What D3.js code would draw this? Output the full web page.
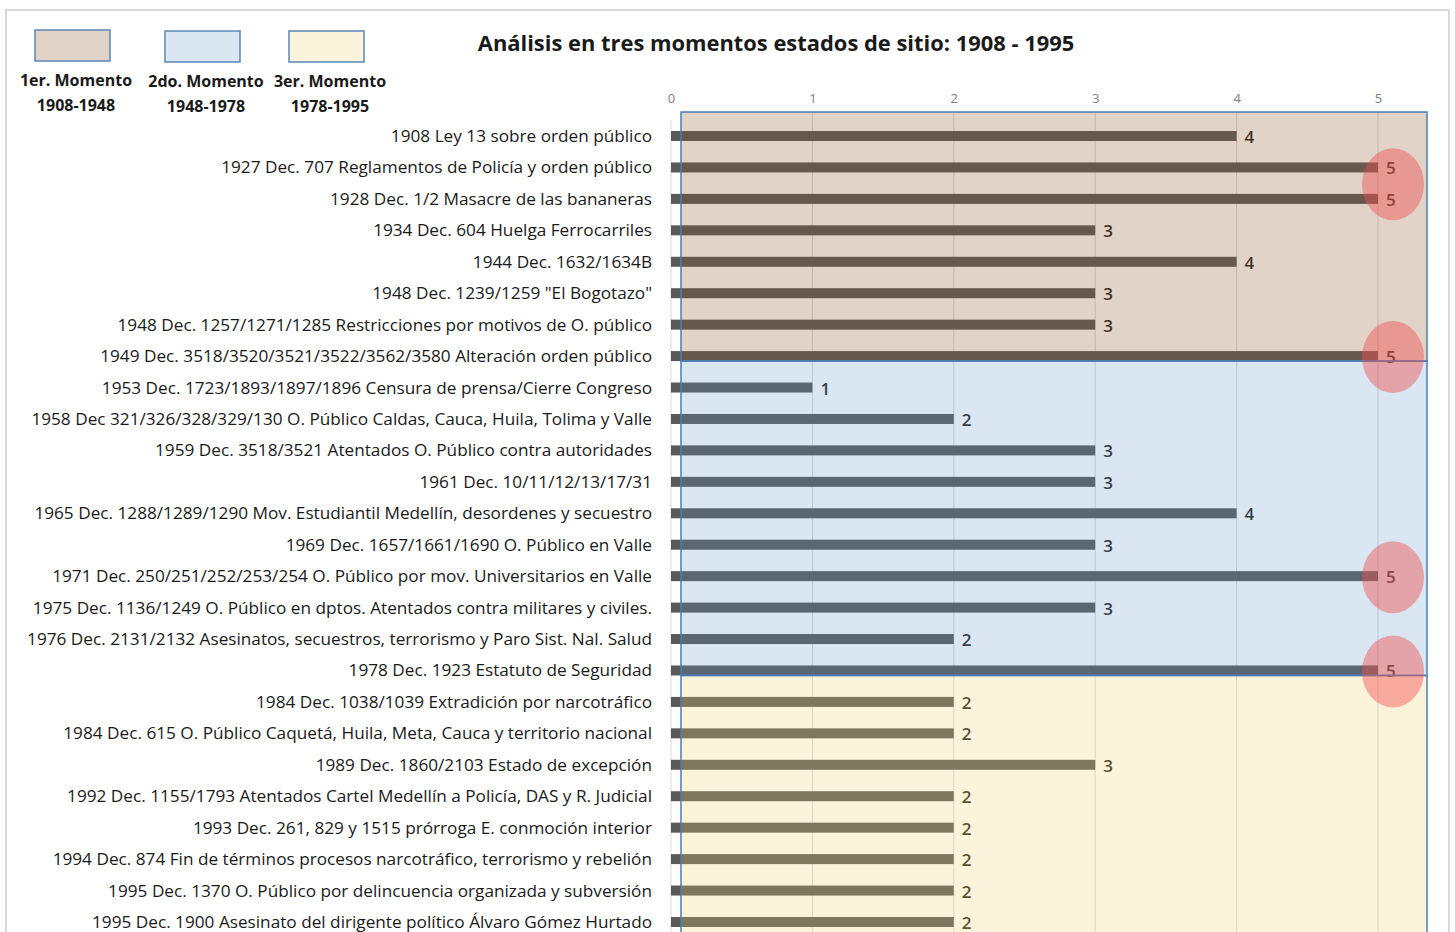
<!DOCTYPE html>
<html>
<head>
<meta charset="utf-8">
<script src="https://cdn.jsdelivr.net/npm/d3@7"></script>
<style>
  body { margin: 0; background: #fff; }
  svg { display: block; }
</style>
</head>
<body>
<div id="chart"></div>
<script>
// data
var labels = [
  "1908 Ley 13 sobre orden público",
  "1927 Dec. 707 Reglamentos de Policía y orden público",
  "1928 Dec. 1/2 Masacre de las bananeras",
  "1934 Dec. 604 Huelga Ferrocarriles",
  "1944 Dec. 1632/1634B",
  "1948 Dec. 1239/1259 \"El Bogotazo\"",
  "1948 Dec. 1257/1271/1285 Restricciones por motivos de O. público",
  "1949 Dec. 3518/3520/3521/3522/3562/3580 Alteración orden público",
  "1953 Dec. 1723/1893/1897/1896 Censura de prensa/Cierre Congreso",
  "1958 Dec 321/326/328/329/130 O. Público Caldas, Cauca, Huila, Tolima y Valle",
  "1959 Dec. 3518/3521 Atentados O. Público contra autoridades",
  "1961 Dec. 10/11/12/13/17/31",
  "1965 Dec. 1288/1289/1290 Mov. Estudiantil Medellín, desordenes y secuestro",
  "1969 Dec. 1657/1661/1690 O. Público en Valle",
  "1971 Dec. 250/251/252/253/254 O. Público por mov. Universitarios en Valle",
  "1975 Dec. 1136/1249 O. Público en dptos. Atentados contra militares y civiles.",
  "1976 Dec. 2131/2132 Asesinatos, secuestros, terrorismo y Paro Sist. Nal. Salud",
  "1978 Dec. 1923 Estatuto de Seguridad",
  "1984 Dec. 1038/1039 Extradición por narcotráfico",
  "1984 Dec. 615 O. Público Caquetá, Huila, Meta, Cauca y territorio nacional",
  "1989 Dec. 1860/2103 Estado de excepción",
  "1992 Dec. 1155/1793 Atentados Cartel Medellín a Policía, DAS y R. Judicial",
  "1993 Dec. 261, 829 y 1515 prórroga E. conmoción interior",
  "1994 Dec. 874 Fin de términos procesos narcotráfico, terrorismo y rebelión",
  "1995 Dec. 1370 O. Público por delincuencia organizada y subversión",
  "1995 Dec. 1900 Asesinato del dirigente político Álvaro Gómez Hurtado"
];
var values = [4, 5, 5, 3, 4, 3, 3, 5, 1, 2, 3, 3, 4, 3, 5, 3, 2, 5, 2, 2, 3, 2, 2, 2, 2, 2];
// momento of each row (0,1,2)
var periods = [0,0,0,0,0,0,0,0, 1,1,1,1,1,1,1,1,1,1, 2,2,2,2,2,2,2,2];
var periodNames = ["1er. Momento", "2do. Momento", "3er. Momento"];
var periodYears = ["1908-1948", "1948-1978", "1978-1995"];
var ticks = [0, 1, 2, 3, 4, 5];
var title = "Análisis en tres momentos estados de sitio: 1908 - 1995";

var width = 1455, height = 932;
var font = "'Open Sans', sans-serif";

var svg = d3.select("#chart").append("svg")
  .attr("width", width)
  .attr("height", height);

// outer frame
svg.append("rect")
  .attr("x", 6).attr("y", 10)
  .attr("width", 1443).attr("height", 940)
  .attr("fill", "none")
  .attr("stroke", "#d9d9d9")
  .attr("stroke-width", 2);

var x = d3.scaleLinear().domain([0, 5]).range([671, 1378]);
var y = d3.scaleBand().domain(labels).range([120.3, 937.7]);
var barH = 10;

// overlay colours for the three bands (semi transparent over grey bars)
var bandFill = ["#8f552a", "#5d92c6", "#f3ce71"];
var bandOpacity = [0.26, 0.23, 0.25];
var legendFill = ["#e2d3c8", "#dae6f2", "#fcf3dc"];

// title
svg.append("text")
  .attr("x", 776).attr("y", 51)
  .attr("text-anchor", "middle")
  .attr("font-family", font)
  .attr("font-weight", "bold")
  .attr("font-size", 21.9)
  .attr("fill", "#1a1a1a")
  .text(title);

// legend
var leg = svg.append("g");
var legX = [35, 165, 289];
var legY = [30, 31, 31];
periodNames.forEach(function(name, i) {
  leg.append("rect")
    .attr("x", legX[i]).attr("y", legY[i])
    .attr("width", 75).attr("height", 31)
    .attr("fill", legendFill[i])
    .attr("stroke", "#5b86b8")
    .attr("stroke-width", 1.5);
  leg.append("text")
    .attr("x", legX[i] + 41).attr("y", legY[i] + 56)
    .attr("text-anchor", "middle")
    .attr("font-family", font)
    .attr("font-weight", "bold")
    .attr("font-size", 16)
    .attr("fill", "#1a1a1a")
    .text(name);
  leg.append("text")
    .attr("x", legX[i] + 41).attr("y", legY[i] + 81)
    .attr("text-anchor", "middle")
    .attr("font-family", font)
    .attr("font-weight", "bold")
    .attr("font-size", 16)
    .attr("fill", "#1a1a1a")
    .text(periodYears[i]);
});

// top axis labels
svg.append("g")
  .attr("transform", "translate(0,106)")
  .call(d3.axisTop(x).tickValues(ticks).tickSize(0).tickFormat(d3.format("d")))
  .call(function(g) {
    g.select(".domain").remove();
    g.selectAll("text")
      .attr("font-family", font)
      .attr("font-size", 13)
      .attr("fill", "#808080");
  });

// gridlines
svg.append("g").selectAll("line")
  .data(ticks)
  .enter().append("line")
  .attr("x1", function(d) { return x(d); })
  .attr("x2", function(d) { return x(d); })
  .attr("y1", function(d) { return d === 0 ? 120 : 112; })
  .attr("y2", height)
  .attr("stroke", "#d9d9d9")
  .attr("stroke-width", 1);

// bars (grey, tinted by the band overlays)
svg.append("g").selectAll("rect")
  .data(values)
  .enter().append("rect")
  .attr("x", x(0))
  .attr("y", function(d, i) { return y(labels[i]) + y.bandwidth() / 2 - barH / 2; })
  .attr("width", function(d) { return x(d) - x(0); })
  .attr("height", barH)
  .attr("fill", "#595959");

// value labels
svg.append("g").selectAll("text")
  .data(values)
  .enter().append("text")
  .attr("x", function(d) { return x(d) + 8; })
  .attr("y", function(d, i) { return y(labels[i]) + y.bandwidth() / 2 + 7; })
  .attr("font-family", font)
  .attr("font-weight", 600)
  .attr("font-size", 17)
  .attr("fill", "#262626")
  .text(function(d) { return d; });

// category labels
svg.append("g").selectAll("text")
  .data(labels)
  .enter().append("text")
  .attr("x", 652)
  .attr("y", function(d) { return y(d) + y.bandwidth() / 2 + 6; })
  .attr("text-anchor", "end")
  .attr("font-family", font)
  .attr("font-size", 17.2)
  .attr("fill", "#1a1a1a")
  .text(function(d) { return d; });

// background bands for each momento
var bands = [0, 1, 2].map(function(p) {
  var rows = labels.filter(function(l, i) { return periods[i] === p; });
  var first = rows[0], last = rows[rows.length - 1];
  var top = p === 0 ? y(first) + y.bandwidth() / 2 - 24 : null;
  var bottom = p === 2 ? height + 10 : y(last) + y.bandwidth() / 2 + barH / 2;
  return { p: p, top: top, bottom: bottom };
});
bands.forEach(function(b, i) { if (b.top === null) b.top = bands[i - 1].bottom; });

svg.append("g").selectAll("rect")
  .data(bands)
  .enter().append("rect")
  .attr("x", x(0) + 10)
  .attr("y", function(d) { return d.top; })
  .attr("width", x(5) + 49 - (x(0) + 10))
  .attr("height", function(d) { return d.bottom - d.top; })
  .attr("fill", function(d) { return bandFill[d.p]; })
  .attr("fill-opacity", function(d) { return bandOpacity[d.p]; })
  .attr("stroke", "#4a7ebb")
  .attr("stroke-width", 1.5);

// highlight ellipses around runs of maximum value
var runs = [];
values.forEach(function(v, i) {
  if (v !== 5) return;
  var prev = runs[runs.length - 1];
  if (prev && prev[prev.length - 1] === i - 1) prev.push(i);
  else runs.push([i]);
});
svg.append("g").selectAll("ellipse")
  .data(runs)
  .enter().append("ellipse")
  .attr("cx", x(5) + 15)
  .attr("cy", function(r) {
    return d3.mean(r, function(i) { return y(labels[i]) + y.bandwidth() / 2; }) + 1;
  })
  .attr("rx", 31)
  .attr("ry", 36)
  .attr("fill", "#f05050")
  .attr("fill-opacity", 0.45);
</script>
</body>
</html>
